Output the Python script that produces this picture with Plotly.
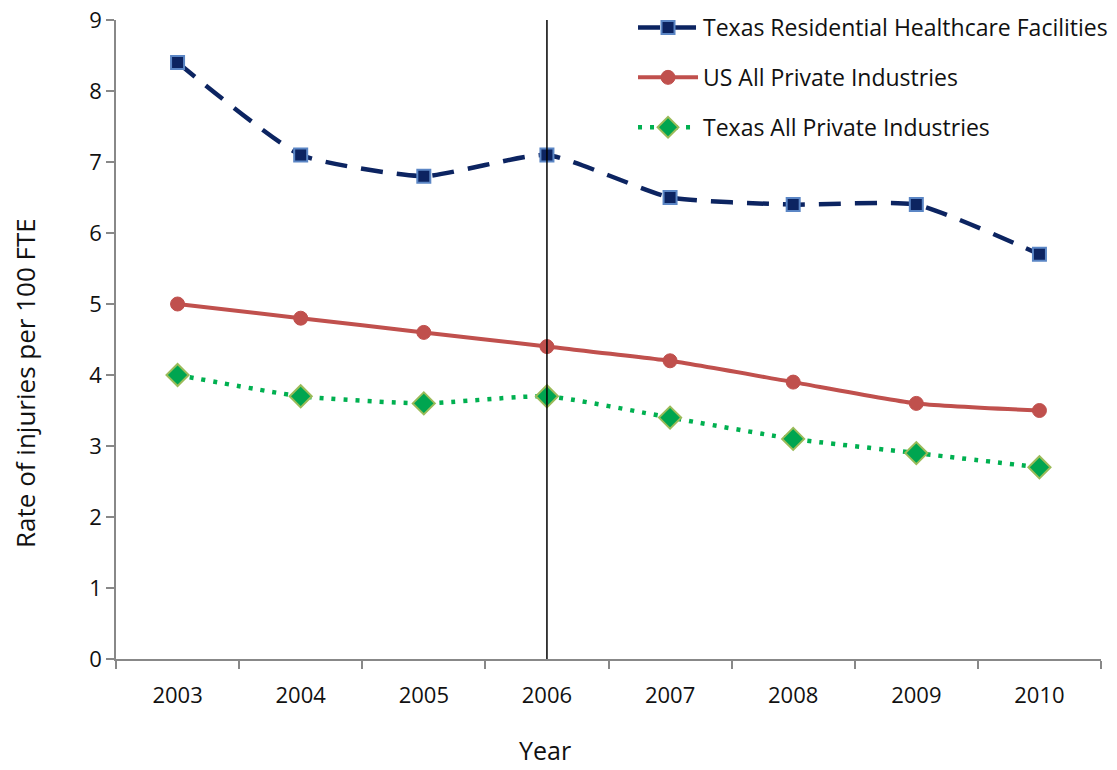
import plotly.graph_objects as go

years = [2003, 2004, 2005, 2006, 2007, 2008, 2009, 2010]
tx_res = [8.4, 7.1, 6.8, 7.1, 6.5, 6.4, 6.4, 5.7]
us_all = [5.0, 4.8, 4.6, 4.4, 4.2, 3.9, 3.6, 3.5]
tx_all = [4.0, 3.7, 3.6, 3.7, 3.4, 3.1, 2.9, 2.7]
divider_year = 2006

font = "Open Sans, Liberation Sans, sans-serif"
boundaries = [y - 0.5 for y in years] + [years[-1] + 0.5]

fig = go.Figure()
fig.add_trace(go.Scatter(
    x=years, y=tx_res, name="Texas Residential Healthcare Facilities",
    mode="lines+markers", legendgroup="a",
    line=dict(color="#0C2461", width=4.5, dash="22px,14px", shape="spline", smoothing=0.5),
    marker=dict(symbol="square", size=13, color="#0C2461", line=dict(color="#5B86C5", width=2)),
))
fig.add_trace(go.Scatter(
    x=years, y=us_all, name="US All Private Industries",
    mode="lines+markers", legendgroup="b",
    line=dict(color="#C0504D", width=4, shape="spline", smoothing=0.5),
    marker=dict(symbol="circle", size=14, color="#C0504D", line=dict(color="#C0504D", width=1)),
))
fig.add_trace(go.Scatter(
    x=years, y=tx_all, name="Texas All Private Industries",
    mode="lines+markers", legendgroup="c",
    line=dict(color="#00B050", width=4.5, dash="4px,8px", shape="spline", smoothing=0.5),
    marker=dict(symbol="diamond", size=17, color="#00A550", line=dict(color="#9BBB59", width=2)),
))

fig.add_shape(type="line", xref="x", yref="paper", x0=divider_year, x1=divider_year,
              y0=0, y1=1, line=dict(color="black", width=1.5))

fig.add_annotation(text="Year", xref="paper", yref="paper", x=0.4355, y=-0.143,
                   xanchor="center", yanchor="middle", showarrow=False,
                   font=dict(size=25), borderpad=0)
fig.add_annotation(text="Rate of injuries per 100 FTE", xref="paper", yref="paper",
                   x=-0.0924, y=0.432, xanchor="center", yanchor="middle",
                   textangle=-90, showarrow=False, font=dict(size=26))

fig.update_layout(
    width=1117, height=770,
    margin=dict(l=116, r=16, t=20, b=111, autoexpand=False),
    plot_bgcolor="white", paper_bgcolor="white",
    font=dict(family=font, size=22, color="#111111"),
    showlegend=True,
    legend=dict(x=1.0122, y=1.0219, xanchor="right", yanchor="top",
                font=dict(size=23), tracegroupgap=17, itemwidth=60,
                bgcolor="rgba(0,0,0,0)"),
    xaxis=dict(range=[2002.5, 2010.5], tickvals=years, ticktext=[str(y) for y in years],
               ticks="", showline=True, linecolor="#888888", linewidth=1.5,
               minor=dict(tickvals=boundaries, ticks="outside", ticklen=8, tickcolor="#888888", tickwidth=1.5),
               showgrid=False, zeroline=False, automargin=False, ticklabelstandoff=16,
               tickfont=dict(size=22)),
    yaxis=dict(range=[0, 9], dtick=1, ticks="outside", ticklen=8, tickcolor="#888888", tickwidth=1.5,
               showline=True, linecolor="#888888", linewidth=1.5,
               showgrid=False, zeroline=False, automargin=False,
               tickfont=dict(size=22)),
)

fig.write_html("out.html", config={"displayModeBar": False},
               post_script="document.body.style.margin='0px';")
